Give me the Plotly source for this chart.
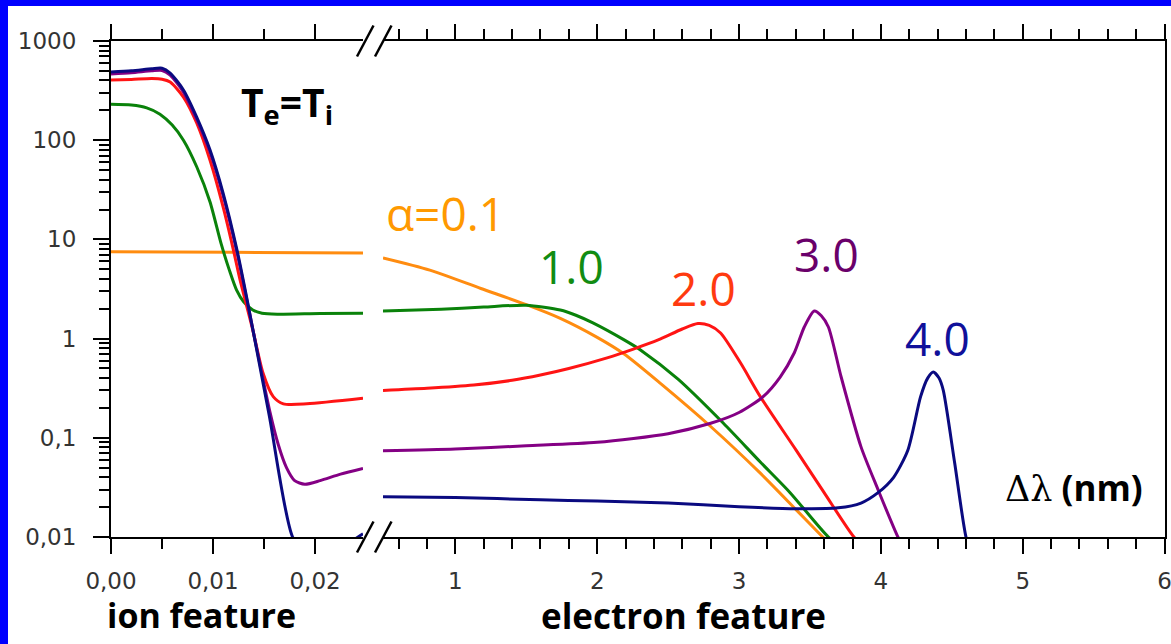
import plotly.graph_objects as go

# ---------------- data ----------------
alphas = ["0.1", "1.0", "2.0", "3.0", "4.0"]
line_colors = ["#FF8C10", "#0A820A", "#FF1414", "#840084", "#0A0A80"]
label_colors = ["#FF9900", "#128C12", "#FF3A10", "#6A006A", "#10109A"]

# ion feature (left panel), x in nm
ion_x_a01 = [0, 0.012, 0.0247]
ion_y_a01 = [7.5, 7.4, 7.3]
ion_x_a1 = [0, 0.002, 0.0035, 0.0048, 0.006, 0.0071, 0.0084, 0.0097, 0.0108, 0.0116, 0.0123, 0.0130, 0.0139, 0.0148, 0.0163, 0.0205, 0.0247]
ion_y_a1 = [230, 226, 212, 183, 142, 100, 54, 24, 9, 4.9, 3.1, 2.35, 1.94, 1.8, 1.76, 1.79, 1.80]
ion_x_a2 = [0, 0.002, 0.004, 0.005, 0.0058, 0.0071, 0.0084, 0.0097, 0.011, 0.012, 0.01265, 0.0139, 0.0149, 0.0159, 0.0169, 0.0192, 0.0247]
ion_y_a2 = [405, 410, 418, 412, 386, 272, 149, 63, 21, 7.8, 3.9, 1.22, 0.45, 0.26, 0.22, 0.22, 0.25]
ion_x_a3 = [0, 0.002, 0.004, 0.005, 0.0058, 0.0071, 0.0084, 0.0097, 0.011, 0.01235, 0.0133, 0.0156, 0.0164, 0.0172, 0.018, 0.019, 0.0205, 0.0225, 0.0247]
ion_y_a3 = [465, 478, 500, 505, 452, 305, 162, 76, 27.5, 7.4, 2.5, 0.178, 0.085, 0.05, 0.037, 0.034, 0.037, 0.043, 0.049]
ion_x_a4 = [0, 0.002, 0.004, 0.005, 0.0058, 0.0071, 0.0084, 0.0097, 0.011, 0.01235, 0.0133, 0.0155, 0.0178, 0.0195, 0.0215, 0.0232, 0.0247]
ion_y_a4 = [487, 500, 525, 532, 475, 321, 171, 80, 29, 7.8, 2.6, 0.17, 0.01, 0.006, 0.0065, 0.0085, 0.0108]

# electron feature (right panel), x in nm
el_x_a01 = [0.49, 0.82, 1.18, 1.5, 1.74, 2.0, 2.19, 2.45, 2.8, 3.15, 3.4, 3.59, 3.7]
el_y_a01 = [6.5, 4.9, 3.2, 2.2, 1.6, 1.03, 0.7, 0.35, 0.13, 0.044, 0.019, 0.01, 0.007]
el_x_a1 = [0.49, 0.9, 1.2, 1.5, 1.74, 1.85, 1.97, 2.19, 2.31, 2.57, 2.89, 3.15, 3.36, 3.63, 3.75]
el_y_a1 = [1.9, 1.98, 2.08, 2.17, 1.94, 1.72, 1.44, 0.97, 0.76, 0.39, 0.14, 0.057, 0.028, 0.01, 0.0075]
el_x_a2 = [0.49, 0.8, 1.13, 1.4, 1.6, 1.8, 2.07, 2.25, 2.43, 2.6, 2.71, 2.79, 2.87, 3.01, 3.15, 3.4, 3.6, 3.81, 3.9]
el_y_a2 = [0.30, 0.315, 0.34, 0.38, 0.43, 0.5, 0.64, 0.78, 0.97, 1.25, 1.42, 1.36, 1.14, 0.57, 0.26, 0.076, 0.028, 0.01, 0.0075]
el_x_a3 = [0.49, 1.0, 1.5, 2.0, 2.5, 2.8, 3.0, 3.17, 3.29, 3.39, 3.46, 3.53, 3.58, 3.63, 3.72, 3.86, 3.98, 4.12, 4.2]
el_y_a3 = [0.074, 0.077, 0.083, 0.09, 0.11, 0.14, 0.18, 0.26, 0.41, 0.72, 1.31, 1.9, 1.7, 1.31, 0.41, 0.081, 0.03, 0.01, 0.006]
el_x_a4 = [0.49, 1.0, 1.6, 2.0, 2.5, 3.0, 3.4, 3.7, 3.86, 3.98, 4.09, 4.19, 4.28, 4.33, 4.37, 4.41, 4.44, 4.52, 4.6, 4.65]
el_y_a4 = [0.0255, 0.025, 0.0237, 0.023, 0.022, 0.0202, 0.0193, 0.0197, 0.022, 0.028, 0.04, 0.075, 0.26, 0.40, 0.46, 0.40, 0.30, 0.056, 0.01, 0.006]

y_tickvals = [0.01, 0.1, 1, 10, 100, 1000]
y_ticktext = ["0,01", "0,1", "1", "10", "100", "1000"]
ion_tickvals = [0, 0.01, 0.02]
ion_ticktext = ["0,00", "0,01", "0,02"]
el_tickvals = [1, 2, 3, 4, 5, 6]
el_ticktext = ["1", "2", "3", "4", "5", "6"]

ion_series = [(ion_x_a01, ion_y_a01), (ion_x_a1, ion_y_a1), (ion_x_a2, ion_y_a2),
              (ion_x_a3, ion_y_a3), (ion_x_a4, ion_y_a4)]
el_series = [(el_x_a01, el_y_a01), (el_x_a1, el_y_a1), (el_x_a2, el_y_a2),
             (el_x_a3, el_y_a3), (el_x_a4, el_y_a4)]

# ---------------- layout geometry (pixels) ----------------
L, R, T, B = 111, 1165, 41, 537


def fx(px):
    return (px - L) / (R - L)


def fy(py):
    return (B - py) / (B - T)


fig = go.Figure()
for i in range(5):
    xs, ys = ion_series[i]
    fig.add_trace(go.Scatter(x=xs, y=ys, mode="lines", xaxis="x", yaxis="y",
                             line=dict(color=line_colors[i], width=3, shape="spline", smoothing=0.7),
                             name="α=" + alphas[i], showlegend=False, hoverinfo="skip"))
for i in range(5):
    xs, ys = el_series[i]
    fig.add_trace(go.Scatter(x=xs, y=ys, mode="lines", xaxis="x2", yaxis="y2",
                             line=dict(color=line_colors[i], width=3, shape="spline", smoothing=0.7),
                             name="α=" + alphas[i], showlegend=False, hoverinfo="skip"))

tickfont = dict(family="DejaVu Sans", size=23, color="#333333")
common_x = dict(ticks="outside", ticklen=15, tickwidth=2, tickcolor="black",
                showline=True, linewidth=2, linecolor="black", mirror="ticks",
                showgrid=False, zeroline=False, tickfont=tickfont, ticklabelstandoff=7,
                ticklabeloverflow="allow", automargin=False)

minor_y = [k * 10 ** e for e in range(-2, 3) for k in range(2, 10)]

fig.update_layout(
    width=1171, height=644,
    margin=dict(l=L, r=1171 - R, t=T, b=644 - B, autoexpand=False),
    paper_bgcolor="white", plot_bgcolor="white",
    xaxis=dict(domain=[0, fx(363)], range=[0, 0.0247], anchor="y",
               tickvals=ion_tickvals, ticktext=ion_ticktext,
               minor=dict(tick0=0, dtick=0.005, ticks="outside", ticklen=10, tickwidth=2,
                          tickcolor="black", showgrid=False),
               **common_x),
    xaxis2=dict(domain=[fx(383), 1], range=[0.49, 6.003], anchor="y2",
                tickvals=el_tickvals, ticktext=el_ticktext,
                minor=dict(tick0=0, dtick=0.2, ticks="outside", ticklen=10, tickwidth=2,
                           tickcolor="black", showgrid=False),
                **common_x),
    yaxis=dict(type="log", range=[-2, 3], anchor="x", domain=[0, 1],
               tickvals=y_tickvals, ticktext=y_ticktext,
               ticks="outside", ticklen=16, tickwidth=2, tickcolor="black",
               minor=dict(tickvals=minor_y, ticks="outside", ticklen=10, tickwidth=2,
                          tickcolor="black", showgrid=False),
               showline=True, linewidth=2, linecolor="black", automargin=False,
               showgrid=False, zeroline=False, tickfont=tickfont, ticklabelstandoff=12),
    yaxis2=dict(type="log", range=[-2, 3], anchor="x2", domain=[0, 1], side="right",
                showline=True, linewidth=2, linecolor="black", ticks="", automargin=False,
                showticklabels=False, showgrid=False, zeroline=False),
)

# blue frame strips (slide background) and axis-break marks
shapes = [
    dict(type="rect", xref="paper", yref="paper", x0=fx(0), x1=fx(8), y0=fy(644), y1=fy(0),
         fillcolor="#0000FF", line=dict(width=0), layer="above"),
    dict(type="rect", xref="paper", yref="paper", x0=fx(0), x1=fx(1171), y0=fy(6), y1=fy(0),
         fillcolor="#0000FF", line=dict(width=0), layer="above"),
]
for yc in (T, B):
    for xs0 in (357, 375):
        shapes.append(dict(type="line", xref="paper", yref="paper",
                           x0=fx(xs0), y0=fy(yc + 15.5), x1=fx(xs0 + 16.5), y1=fy(yc - 15.5),
                           line=dict(color="black", width=2.5), layer="above"))
fig.update_layout(shapes=shapes)

ann = []


def add_text(text, cx, cy, size, color, family="Open Sans"):
    ann.append(dict(text=text, x=fx(cx), y=fy(cy), xref="paper", yref="paper",
                    xanchor="center", yanchor="middle", showarrow=False,
                    font=dict(family=family, size=size, color=color)))


label_pos = [(445, 213), (571, 266), (703, 288), (826, 254), (937, 338)]
for i in range(5):
    txt = ("α=" if i == 0 else "") + alphas[i]
    add_text(txt, label_pos[i][0], label_pos[i][1], 46, label_colors[i])

add_text("<b>T<sub>e</sub>=T<sub>i</sub></b>", 287, 104, 39, "black")
add_text("<b>ion feature</b>", 201, 615, 34, "black")
add_text("<b>electron feature</b>", 683, 615, 35, "black")
add_text('<span style="font-family:DejaVu Serif">Δλ</span> <b>(nm)</b>', 1074, 487, 35, "black")
fig.update_layout(annotations=ann)

fig.write_html("out.html")
